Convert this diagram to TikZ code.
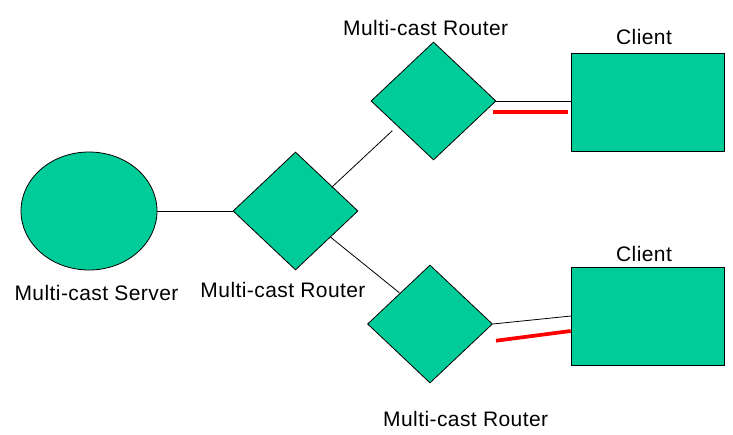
\documentclass[tikz,border=0pt]{standalone}
\usepackage{fontspec}
\setmainfont{Liberation Sans}
\newfontfamily\lblfont[LetterSpace=2]{Liberation Sans}
\usetikzlibrary{shapes.geometric}
\definecolor{netgreen}{RGB}{0,204,153}
\begin{document}
\begin{tikzpicture}[x=1pt,y=1pt,
  dev/.style={draw=black, line width=0.8pt, fill=netgreen, inner sep=0pt},
  router/.style={dev, shape=diamond, minimum width=125pt, minimum height=118pt},
  client/.style={dev, shape=rectangle, minimum width=153pt, minimum height=98pt},
  link/.style={draw=black, line width=0.8pt},
  redlink/.style={draw=red, line width=3.7pt},
  lbl/.style={anchor=base, inner sep=0pt, font=\lblfont\fontsize{21}{25}\selectfont}]
\useasboundingbox (0,0) rectangle (733,434);
\node[dev, shape=ellipse, minimum width=136pt, minimum height=118pt] (server) at (89,223) {};
\node[router] (rmid) at (295.5,223) {};
\node[router] (rtop) at (433.5,333) {};
\node[router] (rbot) at (430,110) {};
\node[client] (ctop) at (647.5,332) {};
\node[client] (cbot) at (647.5,117.5) {};
% labels
\node[lbl] (ltop) at (425.7,398) {Multi-cast Router};
\node[lbl] (lmid) at (283,136.3) {Multi-cast Router};
\node[lbl] (lbot) at (465.7,8) {Multi-cast Router};
\node[lbl] (lsrv) at (96.5,133.3) {Multi-cast Server};
\node[lbl] (lct) at (644,389.7) {Client};
\node[lbl] (lcb) at (644,172.7) {Client};
% connector end points
\coordinate (a1) at (331.7,246.7);
\coordinate (a2) at (392.3,303.3);
\coordinate (b1) at (330.7,196.7);
\coordinate (b2) at (399.3,141.3);
\coordinate (rt1) at (492.7,322);
\coordinate (rt2) at (567.7,322);
\coordinate (bb2) at (571,118);
\coordinate (rb1) at (496,93.3);
\coordinate (rb2) at (570.7,103);
% connectors
\draw[link] (server.east) -- (rmid.west);
\draw[link] (a1) -- (a2);
\draw[link] (b1) -- (b2);
\draw[link] (rtop.east) -- (rtop.east -| ctop.west);
\draw[link] (rbot.east) -- (bb2);
\draw[redlink] (rt1) -- (rt2);
\draw[redlink] (rb1) -- (rb2);
\end{tikzpicture}
\end{document}
